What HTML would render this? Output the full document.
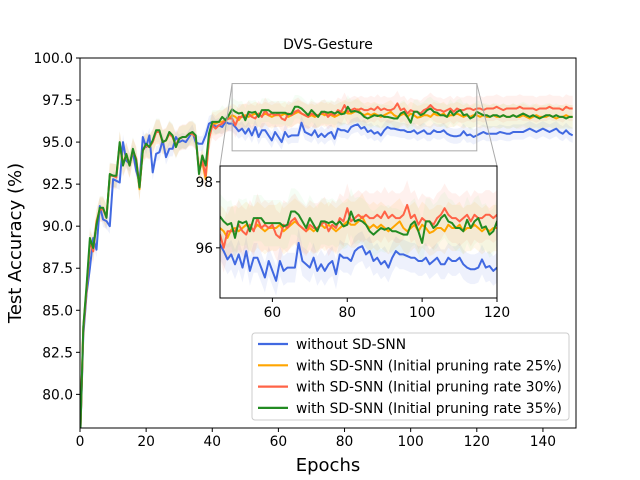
<!DOCTYPE html>
<html><head><meta charset="utf-8"><style>
html,body{margin:0;padding:0;background:#fff;width:640px;height:480px;overflow:hidden}
svg{display:block;font-family:"DejaVu Sans","Liberation Sans",sans-serif}
</style></head><body>
<svg id="chart" width="640" height="480"></svg>
<script>
const epochs = Array.from({length:150},(_,i)=>i);
const blueVals = [77,83.5,86,87.5,89.3,88.6,91.2,90.4,90.3,90.0,
92.8,92.7,92.6,95.0,93.9,93.7,94.4,93.3,92.6,95.3,
94.7,95.4,93.2,94.3,94.4,95.1,94.1,94.6,94.6,95.3,
95.0,95.1,95.0,95.3,95.6,95.0,94.9,94.9,95.4,96.1,
96.2,95.9,96.0,95.9,96.2,96.1,96.1,95.9,95.65,95.8,
95.5,95.8,95.4,95.9,95.3,95.7,95.7,95.4,95.1,95.6,
95.3,95.0,95.6,95.3,95.4,95.4,95.4,96.15,95.6,95.5,
95.4,95.7,95.3,95.5,95.3,95.5,95.6,95.2,95.8,95.7,
95.7,95.6,95.9,96.0,96.05,95.8,95.9,95.6,95.7,95.5,
95.6,95.4,95.7,95.9,95.8,95.8,95.75,95.7,95.7,95.6,
95.6,95.7,95.5,95.6,95.7,95.5,95.5,95.7,95.6,95.6,
95.7,95.5,95.4,95.35,95.35,95.4,95.65,95.4,95.45,95.3,
95.4,95.5,95.6,95.5,95.5,95.5,95.5,95.6,95.55,95.5,
95.5,95.6,95.6,95.6,95.6,95.7,95.8,95.7,95.6,95.7,
95.8,95.7,95.6,95.7,95.8,95.6,95.5,95.7,95.5,95.4];
const orangeVals = [77,84,86.3,89.0,88.6,90.3,91.0,91.0,90.6,93.0,
93.0,93.0,94.9,93.7,94.3,93.6,94.5,94.0,92.2,94.5,
94.8,94.7,95.0,95.6,95.6,95.0,95.1,95.5,95.3,94.8,
95.2,95.3,95.3,95.5,95.5,95.3,93.3,93.8,92.8,95.2,
96.1,96.1,96.2,96.2,96.3,96.4,96.6,96.5,96.3,96.55,
96.6,96.5,96.6,96.7,96.6,96.55,96.7,96.6,96.5,96.6,
96.6,96.6,96.7,96.5,96.6,96.7,96.8,96.7,96.6,96.5,
96.6,96.5,96.6,96.7,96.6,96.7,96.6,96.5,96.6,96.7,
96.8,96.7,96.7,96.8,96.95,96.7,96.6,96.7,96.6,96.7,
96.6,96.5,96.6,96.7,96.8,96.6,96.5,96.6,96.7,96.5,
96.7,96.6,96.45,96.5,96.6,96.6,96.5,96.7,96.6,96.6,
96.7,96.5,96.6,96.6,96.7,96.6,96.5,96.6,96.5,96.6,
96.6,96.5,96.6,96.5,96.5,96.6,96.5,96.5,96.6,96.5,
96.5,96.6,96.5,96.5,96.6,96.5,96.4,96.5,96.6,96.5,
96.5,96.5,96.6,96.5,96.4,96.5,96.5,96.6,96.5,96.5];
const redVals = [77,83.8,86.2,89.1,88.5,90.2,91.0,91.0,90.5,93.0,
93.0,92.9,94.9,93.7,94.2,93.6,94.5,94.0,92.3,94.5,
94.8,94.7,95.0,95.6,95.6,95.0,95.1,95.5,95.3,94.8,
95.2,95.3,95.3,95.5,95.5,95.3,93.3,93.9,93.0,95.2,
96.0,95.8,96.0,96.1,96.3,96.4,96.4,96.0,96.5,96.5,
96.5,96.7,96.5,96.4,96.7,96.5,96.9,96.6,96.7,96.6,
96.7,96.4,96.3,96.7,96.6,96.8,96.9,96.7,96.6,96.5,
96.7,96.6,96.6,96.7,96.8,96.5,96.7,96.6,96.9,96.8,
97.2,96.8,96.9,97.0,96.9,97.0,96.9,96.9,97.0,96.9,
97.1,96.9,97.0,96.9,96.9,97.0,97.3,96.9,97.0,96.7,
96.9,96.8,96.8,96.7,96.9,97.0,97.2,97.0,96.9,96.9,
96.8,96.9,97.0,96.8,97.0,96.9,96.9,97.0,97.0,96.9,
97.0,97.0,96.9,97.0,97.0,97.0,97.1,97.0,96.9,97.0,
97.0,97.0,97.0,97.1,97.0,97.0,97.0,97.0,96.9,97.0,
97.0,97.0,97.1,97.0,97.0,97.0,96.9,97.1,97.0,97.0];
const greenVals = [77,84,86.5,89.3,88.7,90.1,91.1,91.1,90.5,93.1,
93.0,93.0,95.0,93.6,94.3,93.6,94.6,93.9,92.3,94.5,
94.9,94.7,95.1,95.7,95.7,95.0,95.1,95.6,95.4,94.7,
95.2,95.3,95.3,95.5,95.6,95.4,93.1,94.2,93.6,95.5,
96.2,96.2,96.2,96.5,96.3,96.6,96.95,96.8,96.7,96.75,
96.3,96.8,96.75,96.8,96.5,96.9,96.9,96.9,96.75,96.75,
96.75,96.75,96.75,96.65,96.7,97.1,97.1,97.0,96.8,96.6,
96.9,96.7,96.5,96.8,96.8,96.75,96.8,96.7,96.8,96.65,
96.7,97.1,96.8,96.85,96.8,96.7,96.5,96.4,96.5,96.6,
96.55,96.6,96.5,96.5,96.45,96.4,96.4,96.7,96.8,96.5,
96.15,96.8,96.8,96.6,96.7,96.9,97.0,96.8,96.75,96.6,
96.6,96.5,96.85,96.6,96.8,96.9,96.6,96.65,96.4,96.5,
96.8,96.7,96.6,96.6,96.5,96.6,96.6,96.5,96.6,96.5,
96.5,96.6,96.5,96.6,96.7,96.6,96.5,96.6,96.5,96.4,
96.5,96.6,96.6,96.5,96.6,96.5,96.5,96.4,96.5,96.5];
const seriesNames = ["without SD-SNN","with SD-SNN (Initial pruning rate 25%)","with SD-SNN (Initial pruning rate 30%)","with SD-SNN (Initial pruning rate 35%)"];
const bandHalf = [0.45,0.7,0.75,0.7];
const xTicks = [0,20,40,60,80,100,120,140];
const yTicks = [80,82.5,85,87.5,90,92.5,95,97.5,100];
const yTickLabels = ["80.0","82.5","85.0","87.5","90.0","92.5","95.0","97.5","100.0"];
const insetXTicks = [60,80,100,120];
const insetYTicks = [96,98];

const NS="http://www.w3.org/2000/svg";
const svg=document.getElementById('chart');
function el(t,a,p){const e=document.createElementNS(NS,t);for(const k in a)e.setAttribute(k,a[k]);(p||svg).appendChild(e);return e;}
const colors=["#4169e1","#ffa500","#ff6347","#228b22"];
const bandColors=["#4169e1","#ffa500","#ff6347","#90ee90"];
const allVals=[blueVals,orangeVals,redVals,greenVals];
const drawOrder=[0,1,2,3];

const M={l:80,r:576,t:58,b:428,x0:0,x1:150,y0:78,y1:100};
const I={l:220,r:497,t:166,b:298,x0:46,x1:120,y0:94.48,y1:98.48};
function sx(A,v){return A.l+(v-A.x0)/(A.x1-A.x0)*(A.r-A.l);}
function sy(A,v){return A.b-(v-A.y0)/(A.y1-A.y0)*(A.b-A.t);}

const defs=el('defs',{});
[['cm',M],['ci',I]].forEach(([id,A])=>{const c=el('clipPath',{id},defs);el('rect',{x:A.l,y:A.t,width:A.r-A.l,height:A.b-A.t},c);});

function drawSeries(A,clip,grp){
  drawOrder.forEach(s=>{
    const v=allVals[s];
    let up='',dn='';
    epochs.forEach((e,i)=>{up+=(i?'L':'M')+sx(A,e).toFixed(1)+','+sy(A,v[i]+bandHalf[s]).toFixed(1);});
    for(let i=epochs.length-1;i>=0;i--){dn+='L'+sx(A,epochs[i]).toFixed(1)+','+sy(A,v[i]-bandHalf[s]).toFixed(1);}
    const b=el('path',{d:up+dn+'Z',fill:bandColors[s],'fill-opacity':0.09,'clip-path':'url(#'+clip+')'},grp);
    
    
  });
  drawOrder.forEach(s=>{
    const v=allVals[s];
    let d='';
    epochs.forEach((e,i)=>{d+=(i?'L':'M')+sx(A,e).toFixed(1)+','+sy(A,v[i]).toFixed(1);});
    const p=el('path',{d,fill:'none',stroke:colors[s],'stroke-width':2,'stroke-linejoin':'round','clip-path':'url(#'+clip+')'},grp);
    
    
  });
}

const mg=el('g',{});


drawSeries(M,'cm',mg);
el('rect',{x:M.l,y:M.t,width:M.r-M.l,height:M.b-M.t,fill:'none',stroke:'#000','stroke-width':1},mg);
xTicks.forEach(t=>{const x=sx(M,t);el('line',{x1:x,x2:x,y1:M.b,y2:M.b+4,stroke:'#000'},mg);
  const tx=el('text',{x,y:M.b+18,'text-anchor':'middle','font-size':13.8},mg);tx.textContent=t;
  });
yTicks.forEach((t,i)=>{const y=sy(M,t);el('line',{x1:M.l-4,x2:M.l,y1:y,y2:y,stroke:'#000'},mg);
  const tx=el('text',{x:M.l-7,y:y+5,'text-anchor':'end','font-size':13.8},mg);tx.textContent=yTickLabels[i];
  });

el('rect',{x:sx(M,I.x0),y:sy(M,I.y1),width:sx(M,I.x1)-sx(M,I.x0),height:sy(M,I.y0)-sy(M,I.y1),fill:'none',stroke:'#aaa','stroke-width':1});
el('line',{x1:sx(M,I.x0),y1:sy(M,I.y1),x2:I.l,y2:I.t,stroke:'#aaa'});
el('line',{x1:sx(M,I.x1),y1:sy(M,I.y1),x2:I.r,y2:I.t,stroke:'#aaa'});

const ig=el('g',{});


el('rect',{x:I.l,y:I.t,width:I.r-I.l,height:I.b-I.t,fill:'#fff'},ig);
drawSeries(I,'ci',ig);
el('rect',{x:I.l,y:I.t,width:I.r-I.l,height:I.b-I.t,fill:'none',stroke:'#000'},ig);
insetXTicks.forEach(t=>{const x=sx(I,t);el('line',{x1:x,x2:x,y1:I.b,y2:I.b+4,stroke:'#000'},ig);
  const tx=el('text',{x,y:I.b+19,'text-anchor':'middle','font-size':13.8},ig);tx.textContent=t;});
insetYTicks.forEach(t=>{const y=sy(I,t);el('line',{x1:I.l-4,x2:I.l,y1:y,y2:y,stroke:'#000'},ig);
  const tx=el('text',{x:I.l-7,y:y+5,'text-anchor':'end','font-size':13.8},ig);tx.textContent=t;});

const title=el('text',{x:328,y:49,'text-anchor':'middle','font-size':14});title.textContent='DVS-Gesture';

const xl=el('text',{x:328,y:471,'text-anchor':'middle','font-size':18});xl.textContent='Epochs';

const yl=el('text',{x:0,y:0,'text-anchor':'middle','font-size':18,transform:'translate(21,243) rotate(-90)'});yl.textContent='Test Accuracy (%)';


const lg=el('g',{});


el('rect',{x:252,y:333,width:317,height:87,rx:3,fill:'#fff','fill-opacity':0.8,stroke:'#ccc'},lg);
seriesNames.forEach((n,i)=>{const y=344+i*21.3;
  el('line',{x1:258,x2:288,y1:y,y2:y,stroke:colors[i],'stroke-width':2.2},lg);
  const tx=el('text',{x:296,y:y+5,'font-size':13.8},lg);tx.textContent=n;
  });
</script>
</body></html>
